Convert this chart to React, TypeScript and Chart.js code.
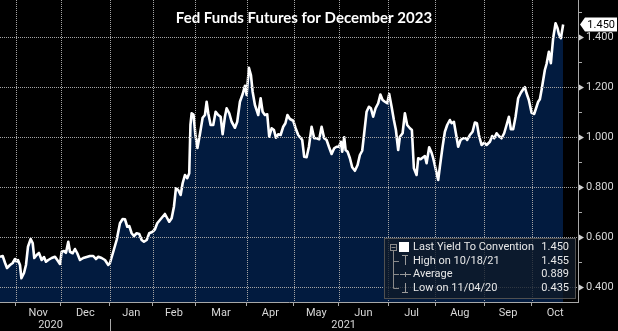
import React, { useEffect, useRef } from "react";
import { Chart, registerables } from "chart.js";

Chart.register(...registerables);

const TITLE = "Fed Funds Futures for December 2023";

// x unit: trading-day index, 0 = first trading day of Nov 2020
const MONTHS = ["Nov", "Dec", "Jan", "Feb", "Mar", "Apr", "May", "Jun", "Jul", "Aug", "Sep", "Oct"];
const MONTH_STARTS = [0, 20, 42, 61, 80, 103, 124, 144, 166, 187, 209, 230, 251];
const YEARS = ["2020", "2021"];
const YEAR_CENTERS = [15.5, 146.2];
const YEAR_BREAK = 42;
const Y_TICKS = [0.4, 0.5, 0.6, 0.7, 0.8, 0.9, 1.0, 1.1, 1.2, 1.3, 1.4, 1.5];
const X_MIN = -7.04;
const X_MAX = 250.7;
const Y_MIN = 0.34;
const Y_MAX = 1.548;

const LEGEND_LABELS = ["Last Yield To Convention", "High on 10/18/21", "Average", "Low on 11/04/20"];
const LEGEND_VALUES = ["1.450", "1.455", "0.889", "0.435"];
const LAST_VALUE = 1.45;

const DAYS = [
  -7.04, -5.84, -4.81, -3.92, -2.59, -1.38, -0.36, 0.4, 0.98, 1.87,
  2.5, 3.66, 4.55, 5.44, 6.64, 7.53, 8.25, 9.32, 10.34, 11.55,
  12.57, 13.46, 14.49, 16.0, 17.48, 18.5, 19.7, 20.46, 21.49, 22.38,
  23.4, 24.16, 25.37, 26.39, 27.42, 28.62, 30.09, 31.61, 33.08, 34.55,
  35.75, 36.78, 38.29, 39.77, 41.24, 42.0,
  43.47, 44.98, 46.45, 47.66, 48.68, 49.71, 50.6, 51.67, 52.69, 53.9,
  55.06, 56.13, 57.15, 58.36, 59.51, 61.03, 62.06, 63.08, 64.28, 65.49,
  66.51, 67.54, 68.43, 69.5, 70.52, 71.42, 72.44, 73.51, 74.4, 75.43,
  76.45, 77.35,
  77.88, 78.42, 79.22, 80.11, 81.0, 82.12, 83.32, 84.35, 85.1, 85.82,
  86.89, 88.05, 89.12, 90.27, 91.34, 92.24, 93.26, 94.02, 95.18, 96.25,
  97.72, 98.75, 99.95, 101.15, 102.18, 102.94, 103.96, 104.85, 105.61, 106.64,
  107.39, 108.11, 109.18, 110.07, 111.09, 112.12, 113.01, 114.08, 115.11, 116.0,
  117.02, 118.09, 119.25,
  120.23, 121.13, 122.24, 123.71, 124.78, 125.94, 127.14, 127.72, 128.61, 129.68,
  130.71, 131.91, 133.07, 134.14, 135.3, 136.37, 137.53, 138.6, 139.63, 140.83,
  141.99, 143.06, 144.08, 144.98, 145.55, 146.45, 147.07, 147.96, 148.99, 150.01,
  151.22, 152.42, 153.44, 154.47, 155.36, 156.43, 157.46, 158.35, 159.37, 160.44,
  161.6, 162.58, 163.56, 164.59,
  165.62, 166.51, 167.58, 168.6, 169.5, 170.52, 171.28, 172.48, 173.51, 174.53,
  175.74, 176.63, 177.52, 178.72, 179.44, 180.51, 181.67, 182.42, 183.18, 184.34,
  185.41, 186.13, 187.33, 188.35, 189.11, 190.31, 191.34, 192.37, 193.57, 194.33,
  195.36, 196.25, 197.27, 198.34, 199.5, 200.71, 201.29, 202.49, 203.69,
  204.72, 205.61, 206.5, 207.71, 208.87, 209.94, 211.41, 212.44, 213.33, 214.4,
  215.43, 216.62, 217.78, 218.85, 219.88, 220.77, 221.79, 222.86, 224.02, 225.22,
  226.25, 227.01, 227.76, 228.79, 229.99, 231.15, 232.22, 232.94, 233.7, 234.45,
  235.92, 236.68, 237.71, 238.6, 239.62, 240.69, 241.58, 242.16, 243.05, 244.08,
];

const VALUES = [
  0.521, 0.524, 0.497, 0.476, 0.488, 0.496, 0.512, 0.501, 0.508, 0.488,
  0.435, 0.456, 0.488, 0.561, 0.592, 0.576, 0.516, 0.528, 0.536, 0.508,
  0.52, 0.501, 0.508, 0.516, 0.521, 0.508, 0.492, 0.541, 0.544, 0.537,
  0.581, 0.541, 0.535, 0.552, 0.535, 0.508, 0.516, 0.52, 0.524, 0.524,
  0.512, 0.521, 0.516, 0.508, 0.488, 0.496,
  0.541, 0.588, 0.655, 0.672, 0.671, 0.641, 0.644, 0.615, 0.604, 0.615,
  0.612, 0.588, 0.581, 0.588, 0.615, 0.621, 0.631, 0.655, 0.668, 0.681,
  0.692, 0.675, 0.661, 0.675, 0.721, 0.795, 0.788, 0.768, 0.815, 0.848,
  0.835, 0.855,
  1.048, 1.095, 1.09, 1.008, 0.956, 1.012, 1.077, 1.088, 1.141, 1.095,
  1.048, 1.048, 1.101, 1.088, 1.081, 1.011, 1.081, 1.115, 1.095, 1.061,
  1.037, 1.061, 1.141, 1.171, 1.205, 1.168, 1.277, 1.248, 1.181, 1.128,
  1.108, 1.088, 1.155, 1.101, 1.088, 1.091, 1.001, 1.035, 1.028, 0.997,
  1.011, 1.008, 1.041,
  1.055, 1.088, 1.072, 1.065, 1.035, 1.008, 0.995, 0.988, 0.921, 0.919,
  0.961, 1.041, 0.995, 0.995, 0.991, 1.041, 0.995, 0.988, 0.961, 0.932,
  0.955, 0.961, 0.961, 0.981, 0.941, 0.999, 0.948, 0.941, 0.915, 0.879,
  0.865, 0.888, 0.928, 0.945, 1.015, 1.101, 1.121, 1.115, 1.081, 1.115,
  1.135, 1.17, 1.148, 1.141,
  1.135, 1.172, 1.121, 1.068, 1.028, 0.948, 1.001, 1.015, 1.095, 1.048,
  1.035, 1.028, 0.875, 0.848, 0.915, 0.911, 0.919, 0.924, 0.895, 0.959,
  0.937, 0.915, 0.868, 0.828, 0.881, 0.961, 1.021, 1.048, 1.068, 1.055,
  1.061, 1.015, 0.961, 0.988, 0.995, 0.995, 0.988, 1.008, 1.021,
  1.058, 1.055, 1.008, 0.968, 0.977, 0.968, 0.981, 1.004, 0.995, 1.015,
  1.004, 0.995, 1.015, 1.048, 1.081, 1.031, 1.031, 1.081, 1.155, 1.177,
  1.191, 1.199, 1.175, 1.148, 1.097, 1.092, 1.121, 1.141, 1.151, 1.188,
  1.268, 1.292, 1.341, 1.295, 1.395, 1.455, 1.435, 1.412, 1.395, 1.45,
];

const GRID = "#a4a4a4";
const AXIS = "#a8a8a8";
const TEXT = "#d8d8d8";
const FILL = "#021b3f";
const FONT = "Roboto, sans-serif";

const MONTH_MIDS = MONTHS.map((_, i) => (MONTH_STARTS[i] + MONTH_STARTS[i + 1]) / 2);
const isBoundary = (v: number) => MONTH_STARTS.indexOf(v) >= 0;
const isMajorY = (v: number) => Math.round(v * 10) % 2 === 0;

const zeroPad = (s: any) => {
  s.paddingTop = 0;
  s.paddingBottom = 0;
  s.paddingLeft = 0;
  s.paddingRight = 0;
};

function drawDotGrid(chart: any) {
  const { ctx, chartArea } = chart;
  const xs = chart.scales.x;
  const ys = chart.scales.y;
  ctx.save();
  ctx.fillStyle = GRID;
  MONTH_STARTS.forEach((v) => {
    if (v <= X_MIN || v >= X_MAX) return;
    const x = Math.round(xs.getPixelForValue(v));
    for (let y = Math.ceil(chartArea.top); y < chartArea.bottom; y += 2) ctx.fillRect(x, y, 1, 1);
  });
  Y_TICKS.filter(isMajorY).forEach((v) => {
    if (v > 1.45) return;
    const y = Math.round(ys.getPixelForValue(v));
    for (let x = Math.ceil(chartArea.left); x < chartArea.right; x += 2) ctx.fillRect(x, y, 1, 1);
  });
  ctx.restore();
}

const gridPlugin = {
  id: "dotgrid",
  afterDatasetsDraw(chart: any) {
    drawDotGrid(chart);
  },
};

const overlay = {
  id: "overlay",
  afterDraw(chart: any) {
    const { ctx, chartArea } = chart;
    const xs = chart.scales.x;
    const ys = chart.scales.y;

    ctx.save();

    // title
    ctx.fillStyle = "#ffffff";
    ctx.font = "bold 15px Lato, 'Open Sans', sans-serif";
    ctx.textAlign = "center";
    ctx.textBaseline = "middle";
    ctx.fillText(TITLE, 304, 18);

    // axis pointers
    ctx.fillStyle = "#d0d0d0";
    Y_TICKS.filter(isMajorY).forEach((v) => {
      if (v > 1.45) return;
      const y = Math.round(ys.getPixelForValue(v)) + 0.5;
      ctx.beginPath();
      ctx.moveTo(chartArea.right + 1, y - 3);
      ctx.lineTo(chartArea.right + 6, y);
      ctx.lineTo(chartArea.right + 1, y + 3);
      ctx.closePath();
      ctx.fill();
    });

    // last value flag
    const ly = ys.getPixelForValue(LAST_VALUE);
    const lx = chartArea.right + 2;
    ctx.fillStyle = "#ffffff";
    ctx.beginPath();
    ctx.moveTo(lx, ly);
    ctx.lineTo(lx + 5, ly - 7);
    ctx.lineTo(617, ly - 7);
    ctx.lineTo(617, ly + 7);
    ctx.lineTo(lx + 5, ly + 7);
    ctx.closePath();
    ctx.fill();
    ctx.fillStyle = "#000000";
    ctx.font = "11px " + FONT;
    ctx.textAlign = "right";
    ctx.fillText(LEGEND_VALUES[0], 615, ly + 0.5);

    // year separator
    const bx = xs.getPixelForValue(YEAR_BREAK);
    ctx.strokeStyle = AXIS;
    ctx.lineWidth = 1;
    ctx.beginPath();
    ctx.moveTo(Math.round(bx) + 0.5, chartArea.bottom + 17);
    ctx.lineTo(Math.round(bx) + 0.5, 331);
    ctx.stroke();

    // legend box
    const bx0 = 384, by0 = 238, bw = 192, bh = 61;
    ctx.fillStyle = "rgba(16,26,40,0.78)";
    ctx.fillRect(bx0, by0, bw, bh);
    ctx.strokeStyle = "#505050";
    ctx.strokeRect(bx0 + 0.5, by0 + 0.5, bw - 1, bh - 1);

    const rows = [247, 260.5, 274, 287.5];
    // tree
    ctx.strokeStyle = "#8a8a8a";
    ctx.beginPath();
    ctx.moveTo(393.5, 250);
    ctx.lineTo(393.5, Math.round(rows[3]) + 0.5);
    rows.slice(1).forEach((r) => {
      ctx.moveTo(393.5, Math.round(r) + 0.5);
      ctx.lineTo(399, Math.round(r) + 0.5);
    });
    ctx.stroke();
    ctx.strokeRect(390.5, 244.5, 6, 6);
    ctx.beginPath();
    ctx.moveTo(391.5, 247.5);
    ctx.lineTo(395.5, 247.5);
    ctx.stroke();
    // icons
    ctx.fillStyle = "#ffffff";
    ctx.fillRect(399, 242, 10, 10);
    ctx.strokeStyle = "#9a9a9a";
    ctx.beginPath();
    ctx.moveTo(402, 255.5); ctx.lineTo(408, 255.5);
    ctx.moveTo(405.5, 255.5); ctx.lineTo(405.5, 265);
    ctx.moveTo(400, 274.5); ctx.lineTo(411, 274.5);
    ctx.moveTo(405.5, 272); ctx.lineTo(405.5, 277);
    ctx.moveTo(405.5, 283); ctx.lineTo(405.5, 292.5);
    ctx.moveTo(402, 292.5); ctx.lineTo(408, 292.5);
    ctx.stroke();

    ctx.fillStyle = "#e8e8e8";
    ctx.font = "11px " + FONT;
    ctx.textBaseline = "middle";
    LEGEND_LABELS.forEach((lab, i) => {
      ctx.textAlign = "left";
      ctx.fillText(lab, 413, rows[i] + 0.5);
      ctx.textAlign = "right";
      ctx.fillText(LEGEND_VALUES[i], 569, rows[i] + 0.5);
    });

    ctx.restore();
  },
};

export default function App() {
  const ref = useRef<HTMLCanvasElement | null>(null);

  useEffect(() => {
    document.body.style.margin = "0";
    document.body.style.background = "#000";
    const canvas = ref.current;
    if (!canvas) return;
    const n = Math.min(DAYS.length, VALUES.length);
    const pts = [];
    for (let i = 0; i < n; i++) pts.push({ x: DAYS[i], y: VALUES[i] });

    const chart = new Chart(canvas, {
      type: "line",
      data: {
        datasets: [
          {
            data: pts,
            borderColor: "#ffffff",
            borderWidth: 2.6,
            backgroundColor: FILL,
            fill: "start",
            pointRadius: 0,
            tension: 0,
            borderJoinStyle: "round",
            xAxisID: "x",
            yAxisID: "y",
          },
        ],
      },
      options: {
        animation: false,
        responsive: false,
        devicePixelRatio: 1,
        layout: { padding: 0 },
        plugins: { legend: { display: false }, tooltip: { enabled: false }, title: { display: false } },
        scales: {
          x: {
            type: "linear",
            position: "bottom",
            min: X_MIN,
            max: X_MAX,
            weight: 0,
            afterBuildTicks: (s: any) => {
              const vals = MONTH_STARTS.filter((v) => v > X_MIN && v < X_MAX).concat(MONTH_MIDS);
              vals.sort((a, b) => a - b);
              s.ticks = vals.map((v) => ({ value: v }));
            },
            afterFit: (s: any) => {
              s.height = 17;
              zeroPad(s);
            },
            ticks: {
              autoSkip: false,
              maxRotation: 0,
              padding: 1,
              color: TEXT,
              font: { family: FONT, size: 11 },
              callback: (v: any) => {
                const i = MONTH_MIDS.indexOf(Number(v));
                return i >= 0 ? MONTHS[i] : "";
              },
            },
            grid: {
              drawOnChartArea: false,
              drawTicks: true,
              tickLength: 4,
              lineWidth: 1,
              color: "rgba(0,0,0,0)",
              tickColor: (c: any) => (c.tick && isBoundary(c.tick.value) ? AXIS : "rgba(0,0,0,0)"),
            },
            border: { display: true, color: AXIS, width: 1 },
          },
          xy: {
            type: "linear",
            position: "bottom",
            min: X_MIN,
            max: X_MAX,
            weight: 1,
            afterBuildTicks: (s: any) => {
              s.ticks = YEAR_CENTERS.map((v) => ({ value: v }));
            },
            afterFit: (s: any) => {
              s.height = 12;
              zeroPad(s);
            },
            ticks: {
              autoSkip: false,
              maxRotation: 0,
              padding: 0,
              color: TEXT,
              font: { family: FONT, size: 11 },
              callback: (v: any) => {
                const i = YEAR_CENTERS.indexOf(Number(v));
                return i >= 0 ? YEARS[i] : "";
              },
            },
            grid: { display: false, drawTicks: false },
            border: { display: false },
          },
          y: {
            type: "linear",
            position: "right",
            min: Y_MIN,
            max: Y_MAX,
            afterBuildTicks: (s: any) => {
              s.ticks = Y_TICKS.map((v) => ({ value: v }));
            },
            afterFit: (s: any) => {
              s.width = 40;
              zeroPad(s);
            },
            ticks: {
              autoSkip: false,
              padding: 4,
              color: TEXT,
              font: { family: FONT, size: 11 },
              callback: (v: any) => (isMajorY(Number(v)) && Number(v) < 1.45 ? Number(v).toFixed(3) : ""),
            },
            grid: {
              drawOnChartArea: false,
              drawTicks: true,
              tickLength: 4,
              lineWidth: 1,
              color: "rgba(0,0,0,0)",
              tickColor: AXIS,
            },
            border: { display: true, color: AXIS, width: 1 },
          },
        },
      },
      plugins: [gridPlugin, overlay],
    } as any);

    return () => chart.destroy();
  }, []);

  return (
    <div style={{ width: 618, height: 331, background: "#000", position: "relative" }}>
      <canvas ref={ref} width={618} height={331} style={{ display: "block" }} />
    </div>
  );
}
